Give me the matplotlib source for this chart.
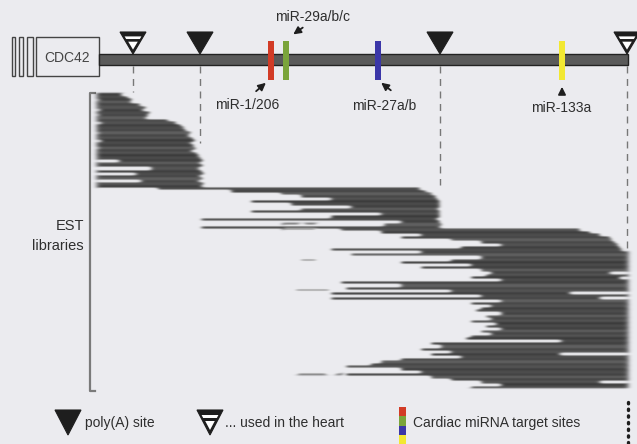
import numpy as np
import matplotlib
matplotlib.use("Agg")
import matplotlib.pyplot as plt
from matplotlib.patches import Rectangle, Polygon

plt.rcParams['font.family'] = ['Liberation Sans', 'DejaVu Sans']

# transcript coordinates (same units as the drawing, 0..637)
gene_start = 99
gene_end = 628
polya_sites = [200, 440]
heart_polya_sites = [133, 627]
mirna_names = ['miR-1/206', 'miR-29a/b/c', 'miR-27a/b', 'miR-133a']
mirna_pos = [271, 286, 378, 562]
mirna_colors = ['#d23b26', '#7aa43a', '#3b36a8', '#f2e832']
# how far down each dashed guide runs (to where the reads meet the site)
guide_sites = [133, 200, 440, 627]
guide_ends = [92, 143, 185, 250]

# one EST read per row (start, end), top to bottom
est_reads = [
    # reads ending at the first heart poly(A) / first poly(A) site
    (97, 122), (97, 128), (98, 132), (97, 131),
    (97, 140), (97, 146), (99, 143), (97, 150), (98, 148), (97, 146),
    (97, 168), (100, 176), (97, 181), (97, 184),
    (97, 186), (98, 191), (97, 189), (97, 193), (100, 195), (97, 191),
    (97, 194), (98, 196), (97, 192), (97, 197),
    (97, 199), (97, 201), (118, 203), (97, 200), (97, 203), (150, 199),
    (97, 202), (135, 204), (97, 200), (97, 203), (140, 199), (97, 204), (97, 202),
    # reads ending at the second poly(A) site
    (157, 420), (230, 426), (280, 432), (300, 436), (330, 438), (250, 440),
    (290, 440), (350, 440), (300, 438), (250, 440), (380, 440), (330, 440),
    (200, 437), (400, 440), (383, 442), (200, 440),
    # reads ending at the distal heart poly(A) site
    (340, 580), (380, 590), (420, 600), (400, 610), (450, 612), (480, 615),
    (500, 618), (460, 620), (330, 622), (420, 627), (350, 627), (480, 627),
    (450, 627), (400, 627), (470, 627), (420, 627), (480, 627), (490, 610),
    (485, 627), (470, 620), (500, 627), (340, 627), (400, 627), (345, 627),
    (450, 627), (330, 570), (480, 627), (330, 600), (500, 627), (470, 627),
    (490, 627), (480, 627), (475, 627), (500, 627), (485, 627), (490, 627),
    (470, 627), (495, 627), (485, 627), (500, 627), (480, 627), (490, 627),
    (470, 627), (465, 627), (560, 627), (430, 627), (440, 627), (420, 627),
    (450, 627), (430, 560), (460, 627), (400, 627), (380, 627), (370, 627),
    (345, 627), (400, 627), (420, 627), (345, 627), (430, 627), (450, 627),
    (480, 600), (500, 627), (470, 627),
]
# short isolated pieces (row, start, end)
est_fragments = [
    (51, 283, 300), (51, 304, 317), (53, 283, 316), (65, 300, 317),
    (77, 295, 330), (110, 297, 327), (110, 335, 342),
]

bg = '#ebebef'
ink = '#2e2e2e'

fig = plt.figure(figsize=(6.37, 4.44), dpi=100)
fig.patch.set_facecolor(bg)
ax = fig.add_axes([0, 0, 1, 1])
ax.set_xlim(0, 637)
ax.set_ylim(444, 0)
ax.axis('off')


def gauss(sigma, r):
    k = np.exp(-0.5 * (np.arange(-r, r + 1) / sigma) ** 2)
    return k / k.sum()


def soften(img, dpi):
    pad = 10
    a = np.pad(img, ((pad, pad), (pad, pad), (0, 0)))
    kv = gauss(0.8, 2)
    kh = gauss(2.5, 7)
    out = sum(w * np.roll(a, s, axis=0) for w, s in zip(kv, range(-2, 3)))
    out = sum(w * np.roll(out, s, axis=1) for w, s in zip(kh, range(-7, 8)))
    return out, -pad, -pad


def site(x, ytop, h, hw, heart):
    ax.add_patch(Polygon([(x - hw, ytop), (x + hw, ytop), (x, ytop + h)],
                         closed=True, fc='#1e1e1e', ec='#1e1e1e', lw=0.8, zorder=5))
    if heart:
        # white stripe under the top band
        y1, y2 = ytop + 0.20 * h, ytop + 0.32 * h
        f1, f2 = 1 - 0.20, 1 - 0.32
        ax.add_patch(Polygon([(x - hw * f1 + 2, y1), (x + hw * f1 - 2, y1),
                              (x + hw * f2 - 2, y2), (x - hw * f2 + 2, y2)],
                             closed=True, fc='white', ec='none', zorder=6))
        # white inner triangle
        y3, y4 = ytop + 0.44 * h, ytop + 0.80 * h
        f3 = 1 - 0.44
        ax.add_patch(Polygon([(x - hw * f3 + 2.5, y3), (x + hw * f3 - 2.5, y3), (x, y4)],
                             closed=True, fc='white', ec='none', zorder=6))


# exon boxes and CDC42 box
for x0, x1 in [(12, 15), (19, 23), (27, 33)]:
    ax.add_patch(Rectangle((x0, 37), x1 - x0, 39, fc=bg, ec='#444', lw=1))
ax.add_patch(Rectangle((36, 37), 63, 39, fc=bg, ec='#444', lw=1))
ax.text(67.5, 57.5, 'CDC42', ha='center', va='center', fontsize=10, color='#444')

# 3'UTR bar
ax.add_patch(Rectangle((gene_start, 54.5), gene_end - gene_start, 10.5,
                       fc='#5a5a5a', ec='#222', lw=1, zorder=3))

# dashed guides
for x, y_end in zip(guide_sites, guide_ends):
    ax.plot([x, x], [66, y_end], color='#777', lw=1, dashes=(5, 4), zorder=2)

# poly(A) sites
for x in polya_sites:
    site(x, 32, 22, 13, False)
for x in heart_polya_sites:
    site(x, 32, 22, 13, True)

# miRNA target sites
for x, c in zip(mirna_pos, mirna_colors):
    ax.add_patch(Rectangle((x - 3, 41), 6, 39, fc=c, ec='none', zorder=4))

arrow = dict(arrowstyle='-|>', color='#1e1e1e', lw=1.3, mutation_scale=11)
ax.annotate('', xy=(mirna_pos[0] - 3, 81), xytext=(mirna_pos[0] - 17, 93), arrowprops=arrow)
ax.annotate('', xy=(mirna_pos[1] + 5, 36), xytext=(mirna_pos[1] + 19, 26), arrowprops=arrow)
ax.annotate('', xy=(mirna_pos[2] + 1, 81), xytext=(mirna_pos[2] + 15, 92), arrowprops=arrow)
ax.annotate('', xy=(mirna_pos[3], 84), xytext=(mirna_pos[3], 97), arrowprops=arrow)
label_xy = [(247, 105), (313, 17), (384, 106), (561, 108)]
for name, (lx, ly) in zip(mirna_names, label_xy):
    ax.text(lx, ly, name, ha='center', va='center', fontsize=10, color=ink)

# EST libraries bracket
ax.plot([95, 90, 90, 95], [93, 93, 391, 391], color='#7a7a7a', lw=1.6)
ax.text(84, 236, 'EST\nlibraries', ha='right', va='center', fontsize=10.5,
        color=ink, linespacing=1.5)

# EST reads, one per row
rax = fig.add_axes([0, 1 - 388 / 444, 1, (388 - 93) / 444])
rax.set_xlim(0, 637)
rax.set_ylim(len(est_reads) - 0.5, -0.5)
rax.axis('off')
shades = ['#3a3a3a', '#4a4a4a', '#404040', '#5e5e5e', '#444444', '#525252']
rows = np.arange(len(est_reads))
starts = [s for s, e in est_reads]
ends = [e for s, e in est_reads]
cols = [shades[i % len(shades)] for i in rows]
reads = rax.hlines(rows, starts, ends, colors=cols, lw=2.1)
reads.set_agg_filter(soften)
frag = rax.hlines([r for r, s, e in est_fragments], [s for r, s, e in est_fragments],
                  [e for r, s, e in est_fragments], colors='#7a7a7a', lw=1.3)
frag.set_agg_filter(soften)

# legend row
site(68, 410, 25, 13, False)
ax.text(85, 423, 'poly(A) site', va='center', fontsize=10, color=ink)
site(210, 410, 25, 13, True)
ax.text(225, 423, '... used in the heart', va='center', fontsize=10, color=ink)
for i, c in enumerate(mirna_colors):
    ax.add_patch(Rectangle((399, 407 + 9.3 * i), 7, 9.3, fc=c, ec='none'))
ax.text(413, 423, 'Cardiac miRNA target sites', va='center', fontsize=10, color=ink)
ax.plot([628, 628], [402, 444], color='#1e1e1e', lw=2.4, dashes=(0.4, 1.6),
        solid_capstyle='round', dash_capstyle='round')

fig.savefig('out.png', dpi=100, facecolor=bg)
